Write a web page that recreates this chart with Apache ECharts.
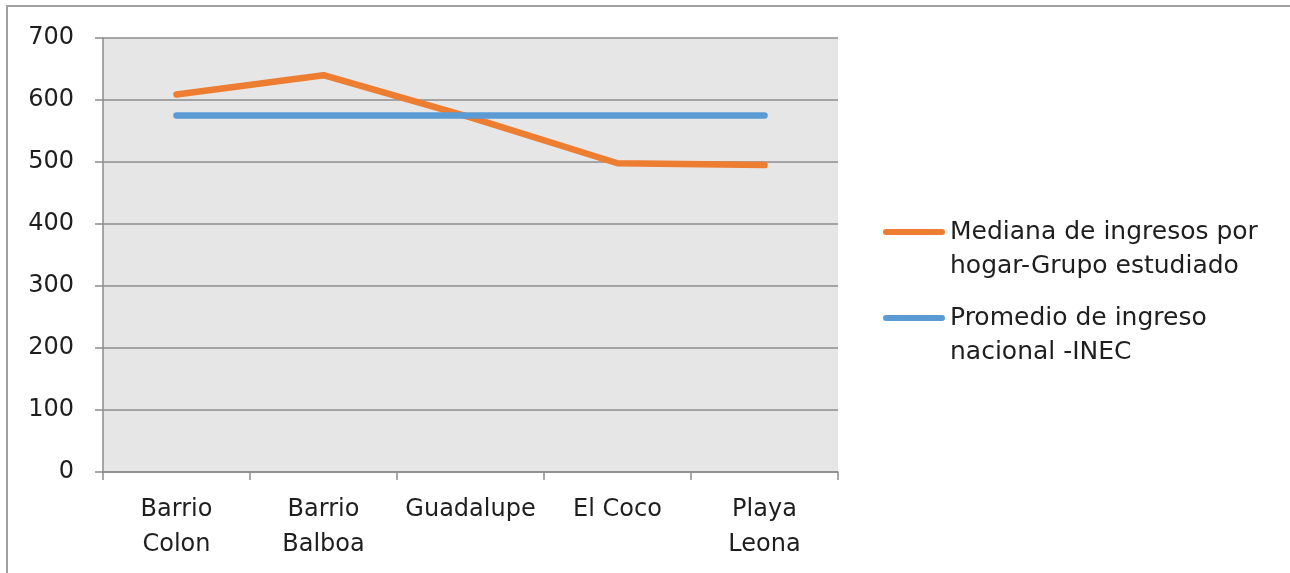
<!DOCTYPE html>
<html>
<head>
<meta charset="utf-8">
<script src="https://cdn.jsdelivr.net/npm/echarts@6/dist/echarts.min.js"></script>
<style>
  html, body { margin: 0; padding: 0; background: #ffffff; }
  #chart { width: 1290px; height: 573px; }
</style>
</head>
<body>
<div id="chart"></div>
<script>
// Barrios compared against the national average income
const categories = ['Barrio\nColon', 'Barrio\nBalboa', 'Guadalupe', 'El Coco', 'Playa\nLeona'];
const medianaHogar = [609, 640, 572, 498, 495];
const promedioNacional = [575, 575, 575, 575, 575];
const seriesNames = ['Mediana de ingresos por\nhogar-Grupo estudiado', 'Promedio de ingreso\nnacional -INEC'];
const yTicks = { min: 0, max: 700, interval: 100 };

const FONT = 'DejaVu Sans';
const TEXT = '#1e1e1e';
const GRID = '#8c8c8c';
const LH = 34;

// Legend swatch: a rounded bar level with the first text line; the two tiny
// corner dots stretch the icon box to the full two-line height.
const legendIcon = 'path://M0,0h0.01v0.01h-0.01Z' +
  'M3,14H59A3,3 0 0 1 59,20H3A3,3 0 0 1 3,14Z' +
  'M0,67.99h0.01v0.01h-0.01Z';

const chart = echarts.init(document.getElementById('chart'), null, { renderer: 'canvas' });

chart.setOption({
  animation: false,
  color: ['#ed7d31', '#5b9bd5'],
  textStyle: { fontFamily: FONT },
  grid: {
    left: 103, right: 452, top: 38, bottom: 101,
    containLabel: false,
    outerBoundsMode: 'none',
    show: true,
    backgroundColor: '#e6e6e6',
    borderWidth: 0
  },
  xAxis: {
    type: 'category',
    data: categories,
    boundaryGap: true,
    axisLine: { show: true, lineStyle: { color: GRID, width: 1.5 } },
    axisTick: { show: true, length: 8, alignWithLabel: false, lineStyle: { color: GRID, width: 1.5 } },
    axisLabel: {
      color: TEXT, fontFamily: FONT, fontSize: 24, lineHeight: 35,
      margin: 20, interval: 0
    },
    splitLine: { show: false }
  },
  yAxis: {
    type: 'value',
    min: yTicks.min, max: yTicks.max, interval: yTicks.interval,
    axisLine: { show: true, lineStyle: { color: GRID, width: 1.5 } },
    axisTick: { show: true, length: 8, lineStyle: { color: GRID, width: 1.5 } },
    axisLabel: { color: TEXT, fontFamily: FONT, fontSize: 24, margin: 29 },
    splitLine: { show: true, lineStyle: { color: GRID, width: 1.5 } }
  },
  legend: {
    orient: 'vertical',
    left: 883, top: 215,
    padding: 0,
    itemGap: 18,
    itemWidth: 62, itemHeight: 2 * LH,
    icon: legendIcon,
    data: seriesNames,
    textStyle: {
      color: TEXT, fontFamily: FONT, fontSize: 25, lineHeight: LH
    }
  },
  graphic: [
    { type: 'line', shape: { x1: 6, y1: 6, x2: 1290, y2: 6 }, style: { stroke: '#a0a0a0', lineWidth: 2 }, silent: true },
    { type: 'line', shape: { x1: 7, y1: 6, x2: 7, y2: 573 }, style: { stroke: '#a0a0a0', lineWidth: 2 }, silent: true }
  ],
  series: [
    {
      name: seriesNames[0],
      type: 'line',
      data: medianaHogar,
      symbol: 'none',
      lineStyle: { width: 6.5, cap: 'round', join: 'round' }
    },
    {
      name: seriesNames[1],
      type: 'line',
      data: promedioNacional,
      symbol: 'none',
      lineStyle: { width: 6.5, cap: 'round', join: 'round' }
    }
  ]
});
</script>
</body>
</html>
